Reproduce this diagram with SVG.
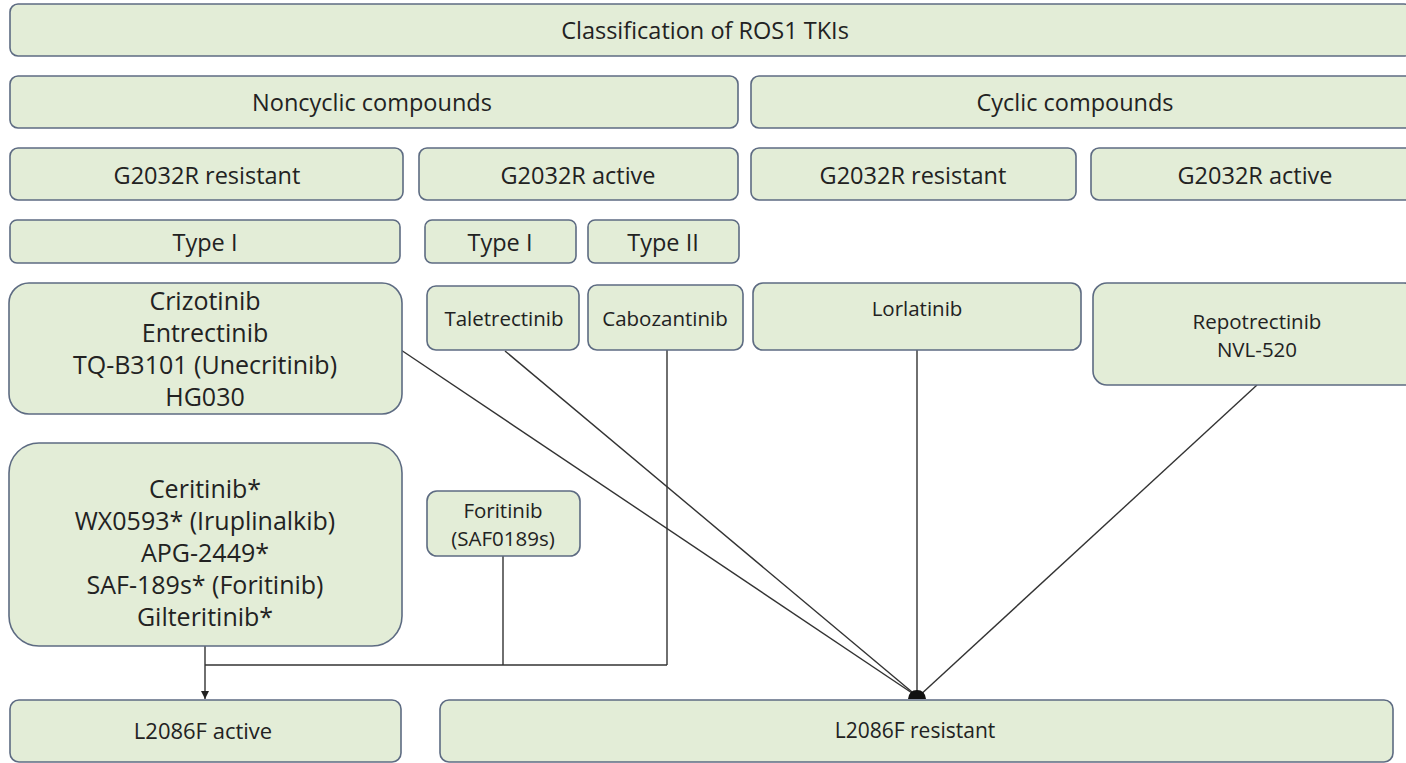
<svg xmlns="http://www.w3.org/2000/svg" width="1406" height="763" viewBox="0 0 1406 763">
<defs>
<style>
.box{fill:#e3edd7;stroke:#5d6b82;stroke-width:1.6}
.t{font-family:"Open Sans","Liberation Sans",sans-serif;font-size:23.5px;fill:#222;text-anchor:middle}
.ts{font-family:"Open Sans","Liberation Sans",sans-serif;font-size:20.5px;fill:#222;text-anchor:middle}
.tb{font-family:"Open Sans","Liberation Sans",sans-serif;font-size:25px;fill:#222;text-anchor:middle}
.c{fill:none;stroke:#333;stroke-width:1.4}
</style>
<marker id="arr" viewBox="0 0 10 10" refX="10" refY="5" markerWidth="8" markerHeight="8" markerUnits="userSpaceOnUse" orient="auto">
<path d="M0,0 L10,5 L0,10 Z" fill="#222"/>
</marker>
</defs>
<rect width="1406" height="763" fill="#fff"/>
<g id="connectors">
<line class="c" x1="205" y1="646" x2="205" y2="699" marker-end="url(#arr)"/>
<line class="c" x1="205" y1="665" x2="667" y2="665"/>
<line class="c" x1="503" y1="556" x2="503" y2="665"/>
<line class="c" x1="667" y1="350" x2="667" y2="665"/>
<line class="c" x1="401" y1="350" x2="918" y2="697"/>
<line class="c" x1="505" y1="351" x2="918" y2="697"/>
<line class="c" x1="917" y1="350" x2="917" y2="697"/>
<line class="c" x1="1257" y1="385" x2="918" y2="697"/>
<path d="M908,699 Q909,690 917,690 Q925,690 926,699 Z" fill="#111"/>
</g>
<g id="title"><rect class="box" x="10" y="4" width="1402" height="52" rx="8"/><text class="t" x="705" y="39">Classification of ROS1 TKIs</text></g>
<g id="noncyclic"><rect class="box" x="10" y="76" width="728" height="52" rx="8"/><text class="t" x="372" y="111">Noncyclic compounds</text></g>
<g id="cyclic"><rect class="box" x="751" y="76" width="665" height="52" rx="8"/><text class="t" x="1075" y="111">Cyclic compounds</text></g>
<g id="nc-resistant"><rect class="box" x="10" y="148" width="393" height="52" rx="8"/><text class="t" x="207" y="184">G2032R resistant</text></g>
<g id="nc-active"><rect class="box" x="419" y="148" width="319" height="52" rx="8"/><text class="t" x="578" y="184">G2032R active</text></g>
<g id="c-resistant"><rect class="box" x="751" y="148" width="325" height="52" rx="8"/><text class="t" x="913" y="184">G2032R resistant</text></g>
<g id="c-active"><rect class="box" x="1091" y="148" width="325" height="52" rx="8"/><text class="t" x="1255" y="184">G2032R active</text></g>
<g id="type1-a"><rect class="box" x="10" y="220" width="390" height="43" rx="7"/><text class="t" x="205" y="251">Type I</text></g>
<g id="type1-b"><rect class="box" x="425" y="220" width="151" height="43" rx="7"/><text class="t" x="500" y="251">Type I</text></g>
<g id="type2"><rect class="box" x="588" y="220" width="151" height="43" rx="7"/><text class="t" x="663" y="251">Type II</text></g>
<g id="crizotinib"><rect class="box" x="9" y="283" width="393" height="131" rx="20"/>
<text class="tb" x="205" y="310">Crizotinib</text><text class="tb" x="205" y="342">Entrectinib</text><text class="tb" x="205" y="374">TQ-B3101 (Unecritinib)</text><text class="tb" x="205" y="406">HG030</text></g>
<g id="taletrectinib"><rect class="box" x="427" y="286" width="152" height="64" rx="9"/><text class="ts" x="504" y="326">Taletrectinib</text></g>
<g id="cabozantinib"><rect class="box" x="588" y="285" width="155" height="65" rx="9"/><text class="ts" x="665" y="326">Cabozantinib</text></g>
<g id="lorlatinib"><rect class="box" x="753" y="283" width="328" height="67" rx="10"/><text class="ts" x="917" y="316">Lorlatinib</text></g>
<g id="repotrectinib"><rect class="box" x="1093" y="283" width="325" height="102" rx="14"/><text class="ts" x="1257" y="329">Repotrectinib</text><text class="ts" x="1257" y="357">NVL-520</text></g>
<g id="ceritinib"><rect class="box" x="9" y="443" width="393" height="203" rx="30"/>
<text class="tb" x="205" y="498">Ceritinib*</text><text class="tb" x="205" y="530">WX0593* (Iruplinalkib)</text><text class="tb" x="205" y="562">APG-2449*</text><text class="tb" x="205" y="594">SAF-189s* (Foritinib)</text><text class="tb" x="205" y="626">Gilteritinib*</text></g>
<g id="foritinib"><rect class="box" x="427" y="491" width="153" height="65" rx="10"/><text class="ts" x="503" y="518">Foritinib</text><text class="ts" x="503" y="546">(SAF0189s)</text></g>
<g id="l2086f-active"><rect class="box" x="10" y="700" width="391" height="62" rx="9"/><text class="t" x="203" y="739" style="font-size:22px">L2086F active</text></g>
<g id="l2086f-resistant"><rect class="box" x="440" y="700" width="953" height="62" rx="9"/><text class="t" x="915" y="738" style="font-size:21px">L2086F resistant</text></g>
</svg>
